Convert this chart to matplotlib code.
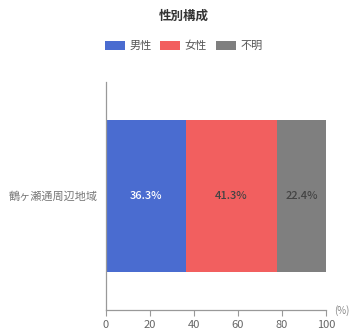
import matplotlib
matplotlib.use("Agg")
import matplotlib.pyplot as plt
from matplotlib.patches import Patch

plt.rcParams['font.family'] = ['Noto Sans CJK JP', 'DejaVu Sans']

category = "鶴ヶ瀬通周辺地域"
series_names = ["男性", "女性", "不明"]
values = [36.3, 41.3, 22.4]
colors = ["#4a6cd0", "#f25f5f", "#7f7f7f"]
label_colors = ["white", "#444444", "#444444"]
xticks = [0, 20, 40, 60, 80, 100]

fig = plt.figure(figsize=(3.53, 3.32), dpi=100)
ax = fig.add_axes([0.3003, 0.066, 0.6232, 0.687])

left = 0
for name, v, c, tc in zip(series_names, values, colors, label_colors):
    ax.barh([0], [v], left=left, height=0.667, color=c, label=name)
    ax.text(left + v / 2, 0, f"{v}%", ha="center", va="center",
            color=tc, fontsize=8, fontweight="medium")
    left += v

ax.set_xlim(0, 100)
ax.set_ylim(-0.5, 0.5)
ax.set_yticks([0])
ax.set_yticklabels([category], fontsize=8, color="#777777")
ax.set_xticks(xticks)
ax.set_xticklabels([str(t) for t in xticks], fontsize=8, color="#666666")
ax.tick_params(axis="y", length=0, pad=6)
ax.tick_params(axis="x", length=4, color="#999999", pad=3)
for s in ["top", "right"]:
    ax.spines[s].set_visible(False)
for s in ["left", "bottom"]:
    ax.spines[s].set_color("#999999")
    ax.spines[s].set_linewidth(0.9)

ax.text(1.035, 0.0, "(%)", transform=ax.transAxes, fontsize=7,
        color="#888888", ha="left", va="center")

fig.text(0.52, 0.952, "性別構成", ha="center", va="center",
         fontsize=9, fontweight="bold", color="#333333")

handles = [Patch(facecolor=c, edgecolor="none") for c in colors]
fig.legend(handles, series_names, loc="center", bbox_to_anchor=(0.52, 0.862),
           ncol=3, frameon=False, fontsize=8, handlelength=1.8,
           handleheight=0.85, handletextpad=0.4, columnspacing=0.8,
           labelcolor="#555555")

fig.savefig("out.png", dpi=100)
